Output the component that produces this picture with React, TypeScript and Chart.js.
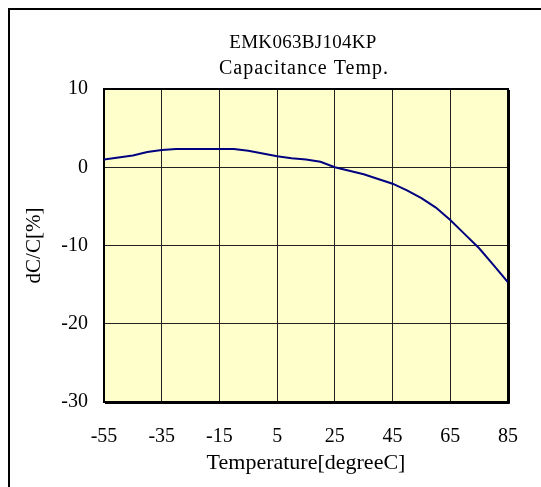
import React, { useEffect, useRef } from "react";
import { Chart, registerables } from "chart.js";

Chart.register(...registerables);

const titleLines = ["EMK063BJ104KP", "Capacitance Temp."];
const xAxisTitle = "Temperature[degreeC]";
const yAxisTitle = "dC/C[%]";
const xTickValues = [-55, -35, -15, 5, 25, 45, 65, 85];
const yTickValues = [-30, -20, -10, 0, 10];
const temperatures = [
  -55, -50, -45, -40, -35, -30, -25, -20, -15, -10, -5, 0, 5, 10, 15, 20, 25,
  30, 35, 40, 45, 50, 55, 60, 65, 70, 75, 80, 85,
];
const dcc = [
  1.0, 1.25, 1.5, 1.95, 2.2, 2.33, 2.33, 2.33, 2.33, 2.33, 2.1, 1.75, 1.4,
  1.15, 1.0, 0.7, 0.0, -0.45, -0.9, -1.5, -2.1, -2.95, -3.95, -5.15, -6.75,
  -8.55, -10.35, -12.5, -14.7,
];

const FONT = "'Liberation Serif', 'Times New Roman', serif";

const framePlugin = {
  id: "framePlugin",
  beforeDraw(chart: any) {
    const { ctx, chartArea } = chart;
    ctx.save();
    ctx.fillStyle = "#ffffff";
    ctx.fillRect(0, 0, chart.width, chart.height);
    ctx.fillStyle = "#000000";
    ctx.fillRect(8, 8, chart.width - 8, 2);
    ctx.fillRect(8, 8, 2, chart.height - 8);
    ctx.fillStyle = "#ffffcc";
    ctx.fillRect(
      chartArea.left,
      chartArea.top,
      chartArea.right - chartArea.left,
      chartArea.bottom - chartArea.top
    );
    // chart title (two lines)
    const cx = (chartArea.left + chartArea.right) / 2 - 3;
    ctx.fillStyle = "#000000";
    ctx.textAlign = "center";
    ctx.textBaseline = "middle";
    ctx.font = `19px ${FONT}`;
    (ctx as any).letterSpacing = "0.3px";
    ctx.fillText(titleLines[0], cx, 43);
    ctx.font = `20px ${FONT}`;
    (ctx as any).letterSpacing = "1px";
    ctx.fillText(titleLines[1], cx + 1, 69);
    (ctx as any).letterSpacing = "0px";
    ctx.restore();
  },
  beforeDatasetsDraw(chart: any) {
    const { ctx, chartArea } = chart;
    ctx.save();
    ctx.strokeStyle = "#000000";
    ctx.lineWidth = 2;
    ctx.strokeRect(
      chartArea.left,
      chartArea.top,
      chartArea.right - chartArea.left,
      chartArea.bottom - chartArea.top
    );
    ctx.lineWidth = 1;
    ctx.beginPath();
    ctx.moveTo(chartArea.right + 1.5, chartArea.top + 1);
    ctx.lineTo(chartArea.right + 1.5, chartArea.bottom + 1.5);
    ctx.lineTo(chartArea.left + 1, chartArea.bottom + 1.5);
    ctx.stroke();
    ctx.restore();
  },
};

export default function App() {
  const canvasRef = useRef<HTMLCanvasElement | null>(null);

  useEffect(() => {
    const canvas = canvasRef.current;
    if (!canvas) return;
    const chart = new Chart(canvas, {
      type: "line",
      data: {
        datasets: [
          {
            data: temperatures.map((t, i) => ({ x: t, y: dcc[i] })),
            borderColor: "#000080",
            borderWidth: 2,
            pointRadius: 0,
            fill: false,
            tension: 0,
          },
        ],
      },
      options: {
        animation: false,
        responsive: false,
        maintainAspectRatio: false,
        layout: { padding: { left: 0, right: 28, top: 89, bottom: 0 } },
        plugins: {
          legend: { display: false },
          tooltip: { enabled: false },
          title: { display: false },
        },
        scales: {
          x: {
            type: "linear",
            min: -55,
            max: 85,
            afterBuildTicks: (scale: any) => {
              scale.ticks = xTickValues.map((v) => ({ value: v }));
            },
            afterFit: (scale: any) => {
              scale.height = 85;
            },
            grid: { color: "#222222", lineWidth: 1, drawTicks: false },
            border: { display: false },
            ticks: {
              color: "#000000",
              padding: 23,
              maxRotation: 0,
              autoSkip: false,
              font: { family: FONT, size: 20, lineHeight: 1.2 },
            },
            title: {
              display: true,
              text: xAxisTitle,
              color: "#000000",
              font: { family: FONT, size: 22, lineHeight: 1.2 },
              padding: { top: 0, bottom: 11 },
            },
          },
          y: {
            type: "linear",
            min: -30,
            max: 10,
            afterBuildTicks: (scale: any) => {
              scale.ticks = yTickValues.map((v) => ({ value: v }));
            },
            afterFit: (scale: any) => {
              scale.width = 104;
            },
            grid: { color: "#222222", lineWidth: 1, drawTicks: false },
            border: { display: false },
            ticks: {
              color: "#000000",
              padding: 16,
              autoSkip: false,
              font: { family: FONT, size: 20, lineHeight: 1.2 },
            },
            title: {
              display: true,
              text: yAxisTitle,
              color: "#000000",
              font: { family: FONT, size: 21, lineHeight: 1.2 },
              padding: { top: 22, bottom: 0 },
            },
          },
        },
      },
      plugins: [framePlugin],
    });
    return () => chart.destroy();
  }, []);

  return (
    <div style={{ position: "absolute", left: 0, top: 0, width: 541, height: 487 }}>
      <canvas ref={canvasRef} width={541} height={487} style={{ display: "block" }} />
    </div>
  );
}
